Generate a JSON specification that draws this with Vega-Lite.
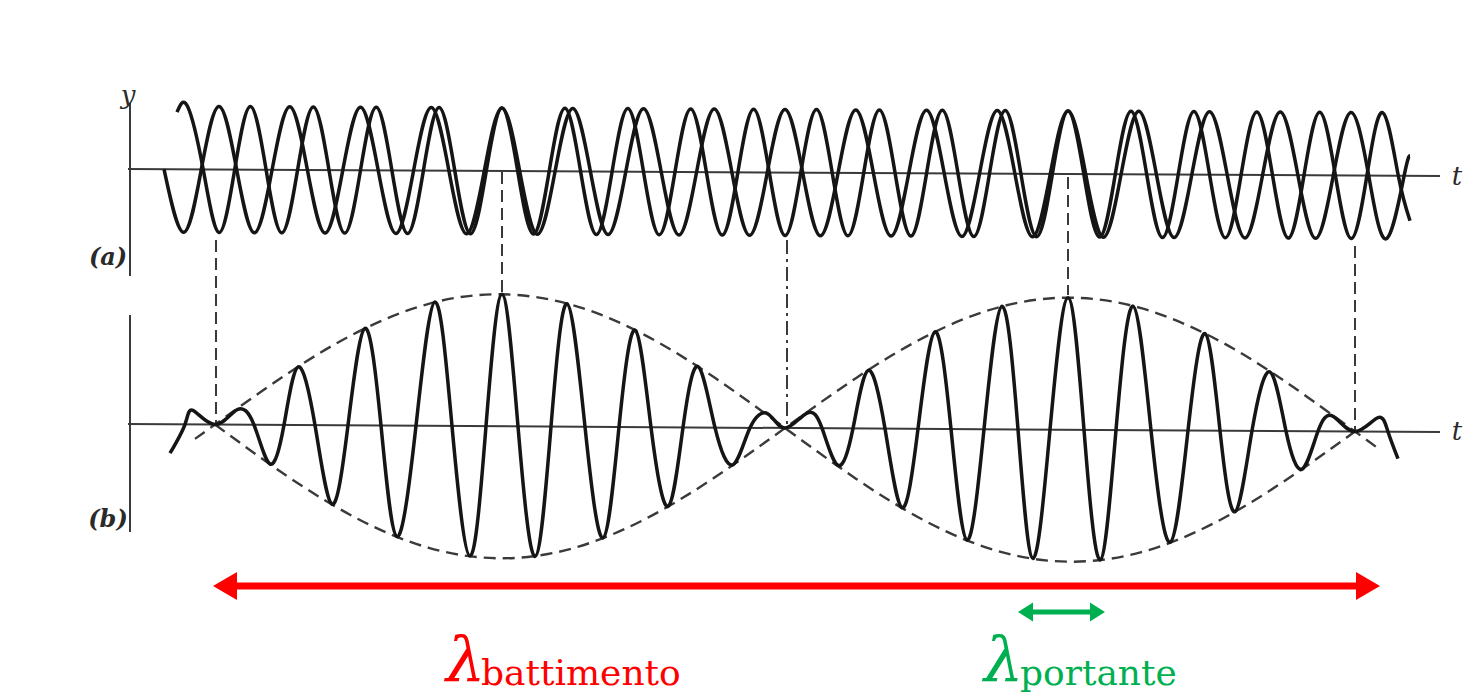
{
  "$schema": "https://vega.github.io/schema/vega-lite/v6.json",
  "width": 1468,
  "height": 698,
  "autosize": {"type": "fit", "contains": "padding"},
  "padding": 0,
  "background": "white",
  "config": {"view": {"stroke": null}},
  "datasets": {
    "axes": [
      {"t": 128, "y": 169, "t2": 1440, "y2": 176},
      {"t": 128, "y": 424, "t2": 1440, "y2": 432},
      {"t": 130, "y": 103, "t2": 130, "y2": 276},
      {"t": 130, "y": 315, "t2": 130, "y2": 532}
    ],
    "dash": [
      {"t": 216, "y": 240, "y2": 425},
      {"t": 502, "y": 172, "y2": 292},
      {"t": 1068, "y": 177, "y2": 295},
      {"t": 1355, "y": 246, "y2": 431}
    ],
    "dashdot": [{"t": 787, "y": 240, "y2": 427}],
    "wave1": [
      {"t":177,"y":112.2},{"t":187.5,"y":106.3},{"t":203.2,"y":169.4},{"t":219,"y":232.5},{"t":234.7,"y":169.6},{"t":250.4,"y":106.6},{"t":266.1,"y":169.7},{"t":281.8,"y":232.8},{"t":297.6,"y":169.9},{"t":313.3,"y":107.0},{"t":329,"y":170.1},{"t":344.7,"y":233.1},{"t":360.5,"y":170.2},{"t":376.2,"y":107.3},{"t":391.9,"y":170.4},{"t":407.6,"y":233.5},{"t":423.4,"y":170.6},{"t":439.1,"y":107.6},{"t":454.8,"y":170.7},{"t":470.5,"y":233.8},{"t":486.3,"y":170.9},{"t":502,"y":108.0},{"t":517.7,"y":171.1},{"t":533.5,"y":234.1},{"t":549.2,"y":171.2},{"t":564.9,"y":108.3},{"t":580.6,"y":171.4},{"t":596.4,"y":234.5},{"t":612.1,"y":171.6},{"t":627.8,"y":108.6},{"t":643.5,"y":171.7},{"t":659.3,"y":234.8},{"t":675,"y":171.9},{"t":690.7,"y":109.0},{"t":706.4,"y":172.1},{"t":722.2,"y":235.1},{"t":737.9,"y":172.2},{"t":753.6,"y":109.3},{"t":769.3,"y":172.4},{"t":785.1,"y":235.5},{"t":800.8,"y":172.6},{"t":816.5,"y":109.6},{"t":832.2,"y":172.7},{"t":848,"y":235.8},{"t":863.7,"y":172.9},{"t":879.4,"y":110.0},{"t":895.1,"y":173.1},{"t":910.9,"y":236.1},{"t":926.6,"y":173.2},{"t":942.3,"y":110.3},{"t":958,"y":173.4},{"t":973.8,"y":236.5},{"t":989.5,"y":173.6},{"t":1005.2,"y":110.6},{"t":1020.9,"y":173.7},{"t":1036.7,"y":236.8},{"t":1052.4,"y":173.9},{"t":1068.1,"y":111.0},{"t":1083.8,"y":174.1},{"t":1099.6,"y":237.1},{"t":1115.3,"y":174.2},{"t":1131,"y":111.3},{"t":1146.7,"y":174.4},{"t":1162.5,"y":237.5},{"t":1178.2,"y":174.6},{"t":1193.9,"y":111.6},{"t":1209.6,"y":174.7},{"t":1225.4,"y":237.8},{"t":1241.1,"y":174.9},{"t":1256.8,"y":112.0},{"t":1272.5,"y":175.1},{"t":1288.3,"y":238.1},{"t":1304,"y":175.2},{"t":1319.7,"y":112.3},{"t":1335.4,"y":175.4},{"t":1351.2,"y":238.5},{"t":1366.9,"y":175.6},{"t":1382.6,"y":112.6},{"t":1398.3,"y":175.7},{"t":1410,"y":220.8}
    ],
    "wave2": [
      {"t":164,"y":169.2},{"t":183.6,"y":232.3},{"t":201.3,"y":169.4},{"t":219,"y":106.5},{"t":236.7,"y":169.6},{"t":254.4,"y":232.7},{"t":272.1,"y":169.8},{"t":289.75,"y":106.8},{"t":307.4,"y":169.9},{"t":325.1,"y":233.0},{"t":342.8,"y":170.1},{"t":360.5,"y":107.2},{"t":378.2,"y":170.3},{"t":395.9,"y":233.4},{"t":413.6,"y":170.5},{"t":431.25,"y":107.6},{"t":448.9,"y":170.7},{"t":466.6,"y":233.8},{"t":484.3,"y":170.9},{"t":502,"y":108.0},{"t":519.7,"y":171.1},{"t":537.4,"y":234.2},{"t":555.1,"y":171.3},{"t":572.75,"y":108.4},{"t":590.4,"y":171.4},{"t":608.1,"y":234.5},{"t":625.8,"y":171.6},{"t":643.5,"y":108.7},{"t":661.2,"y":171.8},{"t":678.9,"y":234.9},{"t":696.6,"y":172.0},{"t":714.25,"y":109.1},{"t":731.9,"y":172.2},{"t":749.6,"y":235.3},{"t":767.3,"y":172.4},{"t":785,"y":109.5},{"t":802.7,"y":172.6},{"t":820.4,"y":235.7},{"t":838.1,"y":172.8},{"t":855.75,"y":109.9},{"t":873.4,"y":173.0},{"t":891.1,"y":236.0},{"t":908.8,"y":173.1},{"t":926.5,"y":110.2},{"t":944.2,"y":173.3},{"t":961.9,"y":236.4},{"t":979.6,"y":173.5},{"t":997.25,"y":110.6},{"t":1014.9,"y":173.7},{"t":1032.6,"y":236.8},{"t":1050.3,"y":173.9},{"t":1068,"y":111.0},{"t":1085.7,"y":174.1},{"t":1103.4,"y":237.2},{"t":1121.1,"y":174.3},{"t":1138.75,"y":111.3},{"t":1156.4,"y":174.4},{"t":1174.1,"y":237.5},{"t":1191.8,"y":174.6},{"t":1209.5,"y":111.7},{"t":1227.2,"y":174.8},{"t":1244.9,"y":237.9},{"t":1262.6,"y":175.0},{"t":1280.25,"y":112.1},{"t":1297.9,"y":175.2},{"t":1315.6,"y":238.3},{"t":1333.3,"y":175.4},{"t":1351,"y":112.5},{"t":1368.7,"y":175.6},{"t":1386.4,"y":238.7},{"t":1404.1,"y":175.8},{"t":1410,"y":155.8}
    ],
    "sum": [
      {"t":170,"y":453.2},{"t":185,"y":424.3},{"t":193,"y":410.4},{"t":215,"y":424.5},{"t":237,"y":409.7},{"t":254,"y":424.8},{"t":270,"y":463.9},{"t":284,"y":424.9},{"t":298,"y":367},{"t":315,"y":425.1},{"t":332,"y":504.2},{"t":348,"y":425.3},{"t":365,"y":328.4},{"t":381,"y":425.5},{"t":397,"y":536.6},{"t":416,"y":425.7},{"t":435,"y":301.9},{"t":452,"y":426.0},{"t":470,"y":556.1},{"t":486,"y":426.2},{"t":502,"y":294.3},{"t":518,"y":426.4},{"t":535,"y":556.5},{"t":551,"y":426.6},{"t":567,"y":303.7},{"t":585,"y":426.8},{"t":603,"y":537.9},{"t":619,"y":427.0},{"t":635,"y":330.1},{"t":651,"y":427.2},{"t":668,"y":506.3},{"t":683,"y":427.4},{"t":698,"y":366.5},{"t":715,"y":427.6},{"t":733,"y":464.7},{"t":750,"y":427.8},{"t":768,"y":413.9},{"t":785,"y":428.0},{"t":807,"y":413.1},{"t":822,"y":428.2},{"t":838,"y":465.3},{"t":853,"y":428.4},{"t":868,"y":370.5},{"t":885,"y":428.6},{"t":902,"y":507.7},{"t":918,"y":428.8},{"t":935,"y":331.9},{"t":951,"y":429.0},{"t":967,"y":540.1},{"t":984,"y":429.2},{"t":1002,"y":306.3},{"t":1018,"y":429.4},{"t":1033,"y":558.5},{"t":1050,"y":429.6},{"t":1068,"y":297.7},{"t":1084,"y":429.8},{"t":1100,"y":559.9},{"t":1116,"y":430.0},{"t":1133,"y":306.1},{"t":1151,"y":430.2},{"t":1170,"y":542.3},{"t":1188,"y":430.5},{"t":1205,"y":333.6},{"t":1220,"y":430.6},{"t":1235,"y":511.7},{"t":1252,"y":430.8},{"t":1270,"y":372},{"t":1286,"y":431.1},{"t":1302,"y":469.1},{"t":1318,"y":431.2},{"t":1333,"y":416.3},{"t":1355,"y":431.5},{"t":1378,"y":417.6},{"t":1388,"y":431.7},{"t":1398,"y":458.7}
    ],
    "env1": [
      {"t":195,"y":438.9},{"t":215,"y":424.5},{"t":286.25,"y":374.5},{"t":357.5,"y":332.1},{"t":428.75,"y":303.8},{"t":500,"y":294.3},{"t":571.25,"y":304.7},{"t":642.5,"y":333.8},{"t":713.75,"y":377.1},{"t":785,"y":428.0},{"t":856.25,"y":478.9},{"t":927.5,"y":522.2},{"t":998.75,"y":551.3},{"t":1070,"y":561.7},{"t":1141.25,"y":552.2},{"t":1212.5,"y":523.9},{"t":1283.75,"y":481.5},{"t":1355,"y":431.5}
    ],
    "env2": [
      {"t":215,"y":424.5},{"t":286.25,"y":475.5},{"t":357.5,"y":518.7},{"t":428.75,"y":547.8},{"t":500,"y":558.3},{"t":571.25,"y":548.7},{"t":642.5,"y":520.4},{"t":713.75,"y":478.1},{"t":785,"y":428.0},{"t":856.25,"y":377.9},{"t":927.5,"y":335.6},{"t":998.75,"y":307.3},{"t":1070,"y":297.7},{"t":1141.25,"y":308.2},{"t":1212.5,"y":337.3},{"t":1283.75,"y":380.5},{"t":1355,"y":431.5},{"t":1377,"y":447.5}
    ]
  },
  "encoding": {
    "x": {"field": "t", "type": "quantitative", "axis": null, "scale": {"domain": [0, 1468], "nice": false, "zero": false}},
    "y": {"field": "y", "type": "quantitative", "axis": null, "scale": {"domain": [0, 698], "reverse": true, "nice": false, "zero": false}}
  },
  "layer": [
    {
      "data": {"name": "axes"},
      "mark": {"type": "rule", "color": "#3a3a3a", "strokeWidth": 2},
      "encoding": {"x2": {"field": "t2"}, "y2": {"field": "y2"}}
    },
    {
      "data": {"name": "dash"},
      "mark": {"type": "rule", "color": "#3a3a3a", "strokeWidth": 2, "strokeDash": [12, 6]},
      "encoding": {"y2": {"field": "y2"}}
    },
    {
      "data": {"name": "dashdot"},
      "mark": {"type": "rule", "color": "#3a3a3a", "strokeWidth": 2, "strokeDash": [14, 5, 3, 5]},
      "encoding": {"y2": {"field": "y2"}}
    },
    {
      "data": {"name": "env1"},
      "mark": {"type": "line", "interpolate": "natural", "color": "#3a3a3a", "strokeWidth": 2.4, "strokeDash": [12, 7]}
    },
    {
      "data": {"name": "env2"},
      "mark": {"type": "line", "interpolate": "natural", "color": "#3a3a3a", "strokeWidth": 2.4, "strokeDash": [12, 7]}
    },
    {
      "data": {"name": "wave1"},
      "mark": {"type": "line", "interpolate": "natural", "color": "#151515", "strokeWidth": 3.5}
    },
    {
      "data": {"name": "wave2"},
      "mark": {"type": "line", "interpolate": "natural", "color": "#151515", "strokeWidth": 3.5}
    },
    {
      "data": {"name": "sum"},
      "mark": {"type": "line", "interpolate": "natural", "color": "#151515", "strokeWidth": 3.5}
    },
    {
      "data": {"values": [{"t": 236, "t2": 1358, "y": 586}]},
      "mark": {"type": "rule", "color": "#ff0000", "strokeWidth": 7},
      "encoding": {"x2": {"field": "t2"}}
    },
    {
      "data": {"values": [{"t": 1368, "y": 586}]},
      "mark": {"type": "point", "shape": "M-0.857,-1L0.857,0L-0.857,1Z", "size": 784, "filled": true, "color": "#ff0000", "opacity": 1, "strokeWidth": 0}
    },
    {
      "data": {"values": [{"t": 225, "y": 586}]},
      "mark": {"type": "point", "shape": "M0.857,-1L-0.857,0L0.857,1Z", "size": 784, "filled": true, "color": "#ff0000", "opacity": 1, "strokeWidth": 0}
    },
    {
      "data": {"values": [{"t": 1030, "t2": 1093, "y": 612}]},
      "mark": {"type": "rule", "color": "#00b050", "strokeWidth": 5},
      "encoding": {"x2": {"field": "t2"}}
    },
    {
      "data": {"values": [{"t": 1097.5, "y": 612}]},
      "mark": {"type": "point", "shape": "M-0.79,-1L0.79,0L-0.79,1Z", "size": 361, "filled": true, "color": "#00b050", "opacity": 1, "strokeWidth": 0}
    },
    {
      "data": {"values": [{"t": 1025.5, "y": 612}]},
      "mark": {"type": "point", "shape": "M0.79,-1L-0.79,0L0.79,1Z", "size": 361, "filled": true, "color": "#00b050", "opacity": 1, "strokeWidth": 0}
    },
    {
      "data": {"values": [{"t": 446, "y": 681, "label": "λ"}]},
      "mark": {"type": "text", "align": "left", "baseline": "alphabetic", "font": "DejaVu Serif", "fontStyle": "italic", "fontSize": 62, "color": "#ff0000"},
      "encoding": {"text": {"field": "label"}}
    },
    {
      "data": {"values": [{"t": 481, "y": 685, "label": "battimento"}]},
      "mark": {"type": "text", "align": "left", "baseline": "alphabetic", "font": "DejaVu Serif", "fontSize": 36, "color": "#ff0000"},
      "encoding": {"text": {"field": "label"}}
    },
    {
      "data": {"values": [{"t": 984, "y": 681, "label": "λ"}]},
      "mark": {"type": "text", "align": "left", "baseline": "alphabetic", "font": "DejaVu Serif", "fontStyle": "italic", "fontSize": 62, "color": "#00b050"},
      "encoding": {"text": {"field": "label"}}
    },
    {
      "data": {"values": [{"t": 1020, "y": 685, "label": "portante"}]},
      "mark": {"type": "text", "align": "left", "baseline": "alphabetic", "font": "DejaVu Serif", "fontSize": 36, "color": "#00b050"},
      "encoding": {"text": {"field": "label"}}
    },
    {
      "data": {"values": [{"t": 128, "y": 96, "label": "y"}, {"t": 1457, "y": 177, "label": "t"}, {"t": 1457, "y": 432, "label": "t"}]},
      "mark": {"type": "text", "align": "center", "baseline": "middle", "font": "DejaVu Serif", "fontStyle": "italic", "fontSize": 26, "color": "#2a2a2a"},
      "encoding": {"text": {"field": "label"}}
    },
    {
      "data": {"values": [{"t": 108, "y": 258, "label": "(a)"}, {"t": 108, "y": 520, "label": "(b)"}]},
      "mark": {"type": "text", "align": "center", "baseline": "middle", "font": "DejaVu Serif", "fontStyle": "italic", "fontWeight": "bold", "fontSize": 24, "color": "#2a2a2a"},
      "encoding": {"text": {"field": "label"}}
    }
  ]
}
